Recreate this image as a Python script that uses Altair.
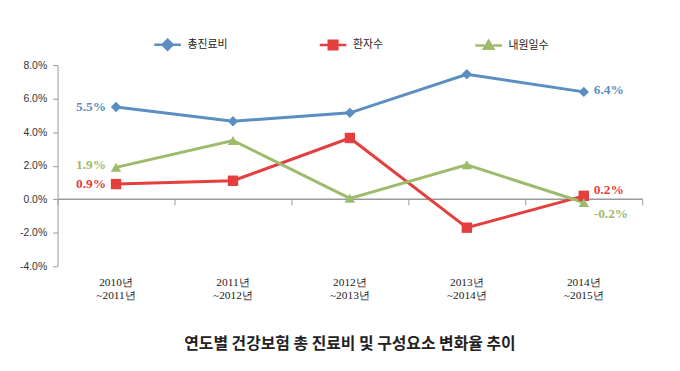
import altair as alt
import pandas as pd

periods = ["2010년 ~2011년", "2011년 ~2012년", "2012년 ~2013년", "2013년 ~2014년", "2014년 ~2015년"]
series = ["총진료비", "환자수", "내원일수"]
total_cost = [5.5, 4.65, 5.15, 7.45, 6.4]
patients = [0.9, 1.1, 3.65, -1.7, 0.2]
visit_days = [1.9, 3.5, 0.05, 2.05, -0.2]
colors = ["#5B8EC1", "#E53E3E", "#9DBB6B"]
y_ticks = [-4, -2, 0, 2, 4, 6, 8]
title_text = "연도별 건강보험 총 진료비 및 구성요소 변화율 추이"

rows = []
for name, vals in zip(series, [total_cost, patients, visit_days]):
    for i, (p, v) in enumerate(zip(periods, vals)):
        rows.append({"period": p, "series": name, "value": v, "idx": i})
df = pd.DataFrame(rows)

xscale = alt.Scale(type="band", paddingInner=0, paddingOuter=0)
yscale = alt.Scale(domain=[-4, 8])

base = alt.Chart(df)

pct_expr = "replace(format({v}, '.1f'), '\u2212', '-') + '%'"

y_axis = alt.Axis(values=y_ticks, labelExpr=pct_expr.format(v="datum.value"),
                  grid=False, domainColor="#999", tickColor="#999", tickSize=5,
                  labelFont="Liberation Sans", labelFontSize=10.5, labelColor="#333",
                  labelPadding=6, title=None)

def y_enc():
    return alt.Y("value:Q", scale=yscale, title=None, axis=y_axis)

zero_axis = alt.Axis(labels=False, domainColor="#999", domainWidth=1.5, tickColor="#999",
                     tickWidth=1, tickSize=6, tickBand="extent", offset=-68, title=None,
                     orient="bottom")
label_axis = alt.Axis(domain=False, ticks=False, labelAngle=0, orient="bottom",
                      labelExpr="split(datum.label, ' ')",
                      labelFont="Liberation Serif", labelFontSize=11.5, labelColor="#222",
                      labelPadding=10, labelLineHeight=14, title=None)

def x_enc(axis=None):
    return alt.X("period:N", sort=periods, scale=xscale, bandPosition=0.5, title=None, axis=axis)

legend_paths = [
    "M-2,0H-0.7M0.7,0H2M0,-0.75L0.75,0L0,0.75L-0.75,0Z",
    "M-2,0H-0.65M0.65,0H2M-0.65,-0.65H0.65V0.65H-0.65Z",
    "M-2,0H-0.65M0.65,0H2M0,-0.7L0.7,0.5H-0.7Z",
]

def make_legend():
    return alt.Legend(orient="none", legendX=103, legendY=-29, direction="horizontal",
                      columnPadding=87, symbolSize=180, symbolStrokeWidth=2.5,
                      labelFont="Noto Sans CJK KR", labelFontSize=11,
                      labelColor="#222", labelOffset=12)

legend_layer = base.transform_filter("false").mark_point(filled=True, opacity=1, strokeWidth=2.5).encode(
    color=alt.Color("series:N", scale=alt.Scale(domain=series, range=colors), title=None,
                    legend=make_legend()),
    stroke=alt.Stroke("series:N", scale=alt.Scale(domain=series, range=colors), title=None,
                      legend=make_legend()),
    shape=alt.Shape("series:N", scale=alt.Scale(domain=series, range=legend_paths), title=None,
                    legend=make_legend()),
)

shapes = ["diamond", "square", "triangle-up"]
line_layers = []
point_layers = []
for k, (name, shp, col) in enumerate(zip(series, shapes, colors)):
    sub = base.transform_filter(alt.datum.series == name)
    line_layers.append(
        sub.mark_line(strokeWidth=3, color=col).encode(
            x=x_enc(zero_axis if k == 0 else None), y=y_enc()
        )
    )
    point_layers.append(
        sub.mark_point(shape=shp, filled=True, size=110, opacity=1, color=col).encode(
            x=x_enc(label_axis if k == 0 else None), y=y_enc()
        )
    )

def label_layer(k, idx, align, dx, dy):
    return base.transform_filter(
        (alt.datum.series == series[k]) & (alt.datum.idx == idx)
    ).transform_calculate(
        txt=pct_expr.format(v="datum.value")
    ).mark_text(align=align, dx=dx, dy=dy, font="Liberation Serif", fontSize=13.5,
                fontWeight="bold", color=colors[k]).encode(
        x=x_enc(), y=y_enc(), text="txt:N",
    )

labels = [
    label_layer(0, 0, "right", -10, 0),
    label_layer(0, 4, "left", 10, -2),
    label_layer(1, 0, "right", -10, 0),
    label_layer(1, 4, "left", 10, -6),
    label_layer(2, 0, "right", -10, -2),
    label_layer(2, 4, "left", 10, 12),
]

chart = alt.layer(legend_layer, *line_layers, *point_layers, *labels).resolve_axis(
    x="independent"
).properties(
    width=590, height=203,
    autosize=alt.AutoSizeParams(type="none"),
    padding={"left": 50, "top": 56, "right": 30, "bottom": 90},
    title=alt.TitleParams(title_text, orient="bottom", font="Noto Sans CJK KR", fontSize=16,
                          fontWeight="bold", color="#222", offset=35, anchor="middle"),
).configure(background="white").configure_view(stroke=None)

chart.save("out.html", embed_options={"renderer": "svg", "actions": False})
